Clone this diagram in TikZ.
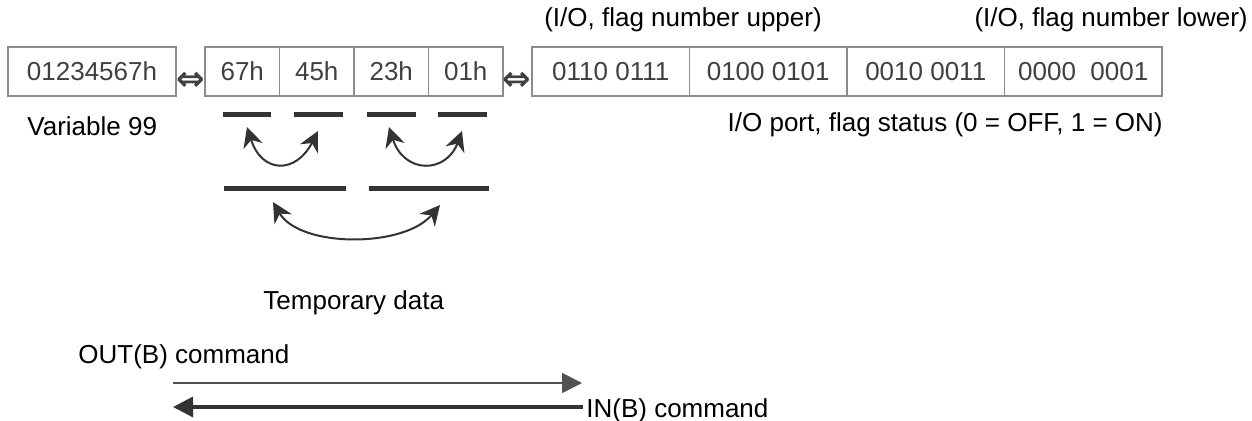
\documentclass[tikz,border=0pt]{standalone}
\usepackage{fontspec}
\setmainfont{Liberation Sans}
\newfontfamily\symfont{DejaVu Sans}
\usetikzlibrary{arrows.meta,positioning}
\definecolor{boxline}{HTML}{8C8C8C}
\definecolor{boxtext}{HTML}{404040}
\definecolor{barcol}{HTML}{333333}
\begin{document}
\begin{tikzpicture}[x=0.5pt,y=-0.5pt]

    \tikzset{
      cell/.style={
        draw=boxline,
        line width=0.7pt,
        text=boxtext,
        minimum height=24.5pt,
        inner sep=0pt,
        outer sep=0pt,
        font=\fontsize{13pt}{15pt}\selectfont,
      },
      small cell/.style={cell, minimum width=37.25pt},
      wide cell/.style={cell, minimum width=78.75pt},
      swapsign/.style={inner sep=0pt, text=boxtext, font=\symfont\bfseries\fontsize{17pt}{19pt}\selectfont},
      label/.style={inner sep=0pt, font=\fontsize{13pt}{15pt}\selectfont},
      bar/.style={draw=barcol, line width=2.5pt},
      swap/.style={draw=barcol, line width=1pt,
        {Stealth[length=10pt,width=10pt]}-{Stealth[length=10pt,width=10pt]}},
    }
    \useasboundingbox (0,0) rectangle (1252,421);

    % variable, bytes, bits
    \node[cell, minimum width=84pt, anchor=west] (var) at (8,71.5) {01234567h};
    \node[swapsign] (eqa) at (191,81) {⇔};
    \node[small cell, anchor=west] (b1) at (205,71.5) {67h};
    \node[small cell, right=0pt of b1] (b2) {45h};
    \node[small cell, right=0pt of b2] (b3) {23h};
    \node[small cell, right=0pt of b3] (b4) {01h};
    \node[swapsign] (eqb) at (517,81) {⇔};
    \node[wide cell, anchor=west] (f1) at (532,71.5) {0110 0111};
    \node[wide cell, right=0pt of f1] (f2) {0100 0101};
    \node[wide cell, right=0pt of f2] (f3) {0010 0011};
    \node[wide cell, right=0pt of f3] (f4) {0000\ \ 0001};

    \node[label, anchor=base] (upper) at (683,27) {(I/O, flag number upper)};
    \node[label, anchor=base east] (lower) at (1248,27) {(I/O, flag number lower)};
    \node[label, anchor=base west] (varname) at (27,136) {Variable 99};
    \node[label, anchor=base east] (status) at (1163,132) {I/O port, flag status (0 = OFF, 1 = ON)};

    % temporary data
    \foreach \a/\b in {223/271, 294/343, 367/416, 438/487}
      \draw[bar] (\a,115) -- (\b,115);
    \foreach \a/\b in {224/346, 369/489}
      \draw[bar] (\a,189) -- (\b,189);
    \draw[swap] (247,127) .. controls (262,174) and (296,174) .. (318,131);
    \draw[swap] (389,127) .. controls (404,174) and (446,174) .. (462,131);
    \draw[swap] (273,202) .. controls (300,248) and (404,248) .. (440,205);
    \node[label, anchor=base west] (temp) at (263,310) {Temporary data};

    % commands
    \node[label, anchor=base west] (outcmd) at (78,364) {OUT(B) command};
    \coordinate (outL) at (173,383);
    \coordinate (outR) at (582,383);
    \draw[draw=barcol!85, line width=0.85pt, -{Triangle[length=10pt,width=10pt]}] (outL) -- (outR);
    \coordinate (inR) at (583,407);
    \coordinate (inL) at (173,407);
    \draw[draw=barcol, line width=1.6pt, -{Triangle[length=10pt,width=10pt]}] (inR) -- (inL);
    \node[label, anchor=base west] (incmd) at (586,418) {IN(B) command};

\end{tikzpicture}
\end{document}
